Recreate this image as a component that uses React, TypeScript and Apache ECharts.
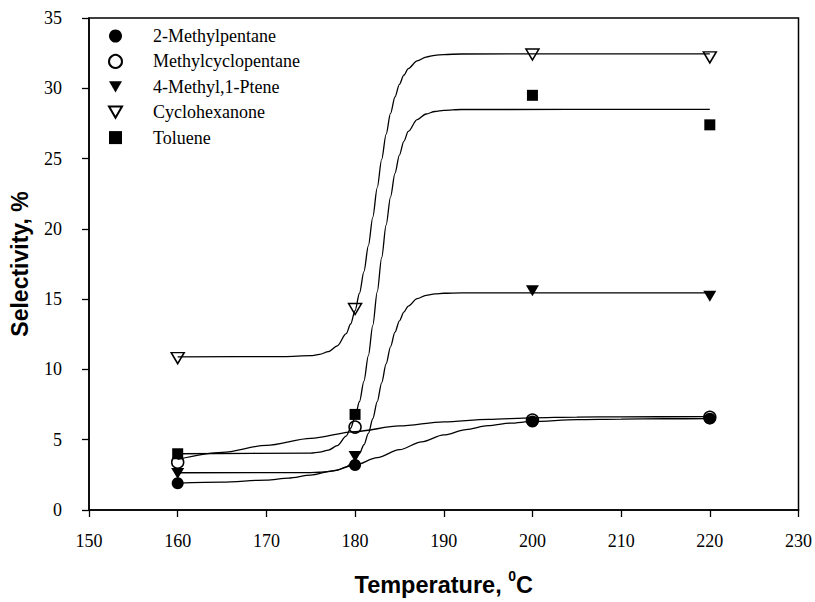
import React, { useEffect, useRef } from "react";
import * as echarts from "echarts";

// Measured selectivities (%) at each reaction temperature (°C)
const temperatures = [160, 180, 200, 220];
const methylpentane = [1.9, 3.2, 6.3, 6.5];
const methylcyclopentane = [3.4, 5.9, 6.4, 6.6];
const methylPentene = [2.6, 3.8, 15.6, 15.2];
const cyclohexanone = [10.8, 14.3, 32.4, 32.2];
const toluene = [4.0, 6.8, 29.5, 27.4];

// Fitted trend curves, [temperature, selectivity] pairs
const methylpentaneFit: number[][] = [
  [160, 1.93], [165, 1.99], [170, 2.13], [172.5, 2.27], [175, 2.48], [177.5, 2.79],
  [180, 3.2], [182.5, 3.72], [185, 4.29], [187.5, 4.85], [190, 5.34], [192.5, 5.72],
  [195, 6.0], [197.5, 6.18], [200, 6.3], [205, 6.43], [210, 6.47], [215, 6.49], [220, 6.5],
];
const methylcyclopentaneFit: number[][] = [
  [160, 3.6], [165, 4.1], [170, 4.6], [175, 5.1], [180, 5.58], [185, 5.98],
  [190, 6.27], [195, 6.45], [200, 6.56], [205, 6.61], [210, 6.63], [220, 6.64],
];
const methylPenteneFit: number[][] = [
  [160, 2.65], [175, 2.665], [176, 2.684], [177, 2.73], [178, 2.83], [179, 3.07],
  [179.5, 3.28], [180, 3.58], [180.5, 4.03], [181, 4.64], [181.5, 5.45], [182, 6.49],
  [182.5, 7.71], [183, 9.05], [183.5, 10.39], [184, 11.61], [184.5, 12.65], [185, 13.46],
  [185.5, 14.08], [186, 14.51], [187, 15.03], [188, 15.27], [189, 15.37], [190, 15.42],
  [192, 15.445], [220, 15.45],
];
const cyclohexanoneFit: number[][] = [
  [160, 10.9], [172, 10.91], [175, 10.98], [176, 11.07], [177, 11.27], [178, 11.68],
  [179, 12.54], [179.5, 13.23], [180, 14.18], [180.5, 15.42], [181, 16.96], [181.5, 18.8],
  [182, 20.84], [182.5, 22.93], [183, 24.94], [183.5, 26.72], [184, 28.21], [184.5, 29.38],
  [185, 30.28], [185.5, 30.93], [186, 31.4], [187, 31.95], [188, 32.22], [189, 32.34],
  [190, 32.4], [192, 32.44], [220, 32.45],
];
const tolueneFit: number[][] = [
  [160, 4.0], [175, 4.05], [176, 4.12], [177, 4.26], [178, 4.58], [179, 5.26],
  [179.5, 5.82], [180, 6.63], [180.5, 7.72], [181, 9.17], [181.5, 10.98], [182, 13.14],
  [182.5, 15.52], [183, 17.95], [183.5, 20.26], [184, 22.28], [184.5, 23.95], [185, 25.25],
  [185.5, 26.23], [186, 26.93], [187, 27.77], [188, 28.17], [189, 28.35], [190, 28.43],
  [192, 28.49], [220, 28.5],
];

const xTicks = { min: 150, max: 230, interval: 10 };
const yTicks = { min: 0, max: 35, interval: 5 };

const serif = "'Liberation Serif', 'Times New Roman', serif";
const sans = "'Liberation Sans', Arial, sans-serif";

const TRI_DOWN = "path://M0,0 L12,0 L6,10.4 Z";

const pair = (vals: number[]) => vals.map((v, i) => [temperatures[i], v]);

export default function App() {
  const ref = useRef<HTMLDivElement>(null);

  useEffect(() => {
    if (!ref.current) return;
    const chart = echarts.init(ref.current, undefined, { renderer: "svg" });

    const markers = [
      { name: "2-Methylpentane", data: methylpentane, symbol: "circle", size: 12, fill: "#000" },
      { name: "Methylcyclopentane", data: methylcyclopentane, symbol: "circle", size: 12, fill: "transparent" },
      { name: "4-Methyl,1-Ptene", data: methylPentene, symbol: TRI_DOWN, size: [13, 11], fill: "#000" },
      { name: "Cyclohexanone", data: cyclohexanone, symbol: TRI_DOWN, size: [13, 11], fill: "transparent" },
      { name: "Toluene", data: toluene, symbol: "rect", size: 11, fill: "#000" },
    ];
    const fits = [methylpentaneFit, methylcyclopentaneFit, methylPenteneFit, cyclohexanoneFit, tolueneFit];

    const lineSeries = fits.map((d, i) => ({
      name: markers[i].name + " fit",
      type: "line",
      data: d,
      showSymbol: false,
      symbol: "none",
      smooth: 0.3,
      smoothMonotone: "x",
      silent: true,
      lineStyle: { color: "#000", width: 1.3 },
      z: 2,
    }));

    const scatterSeries = markers.map((m) => ({
      name: m.name,
      type: "scatter",
      data: pair(m.data),
      symbol: m.symbol,
      symbolSize: m.size,
      itemStyle: {
        color: m.fill,
        borderColor: "#000",
        borderWidth: m.fill === "#000" ? 0 : 1.5,
        opacity: 1,
      },
      z: 3,
    }));

    chart.setOption({
      animation: false,
      backgroundColor: "#fff",
      grid: {
        left: 89,
        right: 16,
        top: 18,
        bottom: 87,
        show: true,
        borderColor: "#000",
        borderWidth: 1.5,
        backgroundColor: "transparent",
      },
      legend: {
        data: markers.map((m) => m.name),
        orient: "vertical",
        left: 108,
        top: 26,
        padding: 0,
        itemWidth: 13,
        itemHeight: 13,
        itemGap: 5.4,
        selectedMode: false,
        textStyle: {
          fontFamily: serif,
          fontSize: 18,
          color: "#000",
          lineHeight: 20,
          padding: [0, 0, 0, 26],
        },
      },
      xAxis: {
        type: "value",
        min: xTicks.min,
        max: xTicks.max,
        interval: xTicks.interval,
        splitLine: { show: false },
        axisLine: { show: true, onZero: false, lineStyle: { color: "#000", width: 1.5 } },
        axisTick: { show: true, inside: false, length: 7, lineStyle: { color: "#000", width: 1.3 } },
        axisLabel: { fontFamily: serif, fontSize: 18, color: "#000", margin: 22 },
        name: "{t|Temperature, }{s|0}{t|C}",
        nameLocation: "middle",
        nameGap: 59,
        nameTextStyle: {
          rich: {
            t: { fontFamily: sans, fontWeight: "bold", fontSize: 23.5, color: "#000", lineHeight: 28, verticalAlign: "bottom" },
            s: { fontFamily: sans, fontWeight: "bold", fontSize: 14, color: "#000", lineHeight: 14, verticalAlign: "top" },
          },
        },
      },
      yAxis: {
        type: "value",
        min: yTicks.min,
        max: yTicks.max,
        interval: yTicks.interval,
        splitLine: { show: false },
        axisLine: { show: true, onZero: false, lineStyle: { color: "#000", width: 1.5 } },
        axisTick: { show: true, inside: false, length: 7, lineStyle: { color: "#000", width: 1.3 } },
        axisLabel: { fontFamily: serif, fontSize: 18, color: "#000", margin: 27 },
        name: "Selectivity, %",
        nameLocation: "middle",
        nameGap: 58,
        nameTextStyle: { fontFamily: sans, fontWeight: "bold", fontSize: 23, color: "#000" },
      },
      series: [...lineSeries, ...scatterSeries],
    });

    return () => chart.dispose();
  }, []);

  return (
    <div
      ref={ref}
      style={{ position: "fixed", left: 0, top: 0, width: 815, height: 602, background: "#fff" }}
    />
  );
}
